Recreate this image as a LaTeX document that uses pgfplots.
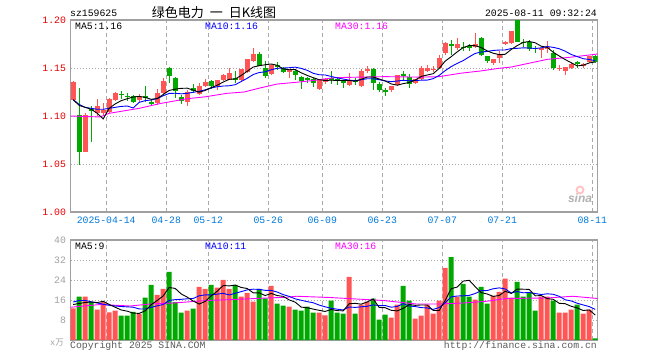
\documentclass[border=0pt]{standalone}
\usepackage{fontspec}
\usepackage{pgfplots}
\usepackage{pgfplotstable}
\pgfplotsset{compat=1.18}
\setmainfont{Liberation Mono}
\newfontfamily\cjk{Noto Sans CJK SC}
\newfontfamily\sansf{Liberation Sans}
\definecolor{cred}{RGB}{255,85,85}
\definecolor{cgreen}{RGB}{0,168,0}
\definecolor{cblue}{RGB}{0,0,255}
\definecolor{cmag}{RGB}{255,0,255}
\definecolor{labred}{RGB}{230,0,0}
\definecolor{labblue}{RGB}{0,120,220}
\definecolor{framegray}{RGB}{160,160,160}
\definecolor{gridgray}{RGB}{170,170,170}
\definecolor{txtgray}{RGB}{90,90,90}
\newcommand{\mf}{\fontsize{9.8}{10}\selectfont}

% red (rising) candles: x open high low close volume
\pgfplotstableread{
x o h l c v
0 1.117 1.136 1.116 1.135 12.7
2 1.063 1.103 1.062 1.101 17.4
4 1.103 1.118 1.100 1.110 12.2
5 1.103 1.114 1.100 1.106 15.2
6 1.104 1.119 1.103 1.118 11.1
7 1.117 1.125 1.116 1.124 11.8
11 1.117 1.123 1.115 1.121 10.5
14 1.114 1.128 1.111 1.124 18.1
15 1.124 1.140 1.123 1.136 20.5
19 1.115 1.127 1.110 1.125 11.8
21 1.123 1.134 1.122 1.131 21.3
22 1.131 1.139 1.130 1.135 20.5
24 1.131 1.138 1.127 1.137 21.0
25 1.138 1.144 1.136 1.143 24.1
26 1.138 1.150 1.137 1.145 20.5
28 1.137 1.149 1.136 1.149 17.4
29 1.146 1.159 1.145 1.159 18.9
30 1.157 1.171 1.156 1.165 15.4
33 1.144 1.154 1.143 1.153 21.7
36 1.146 1.149 1.140 1.148 13.4
41 1.128 1.138 1.127 1.1375 11.0
42 1.135 1.140 1.133 1.139 9.9
46 1.132 1.1445 1.131 1.1375 25.3
48 1.1316 1.1486 1.1305 1.147 14.2
49 1.147 1.152 1.1445 1.149 15.4
53 1.127 1.131 1.1247 1.131 9.0
54 1.132 1.143 1.131 1.1427 14.2
57 1.134 1.139 1.133 1.1385 8.6
58 1.1385 1.1524 1.138 1.150 9.8
59 1.147 1.153 1.146 1.150 14.2
60 1.148 1.152 1.146 1.149 10.6
61 1.150 1.1635 1.149 1.1607 15.8
62 1.1653 1.177 1.164 1.1764 28.9
64 1.1705 1.1815 1.169 1.175 17.4
67 1.1715 1.186 1.171 1.175 16.2
70 1.155 1.159 1.153 1.159 17.7
71 1.160 1.168 1.155 1.1646 19.3
72 1.1755 1.178 1.174 1.1768 24.6
73 1.1757 1.1885 1.175 1.1885 17.0
78 1.1695 1.1705 1.160 1.1705 17.4
79 1.1695 1.1785 1.166 1.1715 17.4
81 1.1490 1.153 1.147 1.1503 11.0
82 1.1464 1.1514 1.1427 1.1514 11.0
83 1.150 1.155 1.149 1.154 12.2
85 1.1528 1.155 1.150 1.154 10.6
86 1.1566 1.162 1.1555 1.162 12.2
}\redtab

% green (falling) candles
\pgfplotstableread{
x o h l c v
1 1.101 1.129 1.049 1.063 17.4
3 1.107 1.110 1.073 1.105 15.2
8 1.123 1.126 1.118 1.122 9.8
9 1.121 1.124 1.116 1.120 9.8
10 1.121 1.122 1.114 1.115 11.3
12 1.121 1.131 1.115 1.119 17.0
13 1.115 1.118 1.110 1.112 22.1
16 1.150 1.151 1.134 1.142 27.3
17 1.140 1.141 1.119 1.126 15.2
18 1.120 1.122 1.112 1.116 11.0
20 1.129 1.133 1.124 1.126 12.6
23 1.136 1.137 1.128 1.131 22.1
27 1.140 1.147 1.134 1.137 22.1
31 1.165 1.167 1.152 1.152 20.5
32 1.150 1.157 1.140 1.142 16.7
34 1.1525 1.156 1.148 1.152 14.6
35 1.150 1.151 1.145 1.146 13.8
37 1.147 1.149 1.137 1.143 12.2
38 1.141 1.142 1.128 1.136 11.8
39 1.139 1.141 1.134 1.1385 13.4
40 1.139 1.140 1.130 1.134 11.0
43 1.140 1.147 1.133 1.1375 15.8
44 1.138 1.140 1.132 1.137 11.0
45 1.1375 1.138 1.129 1.134 10.6
47 1.137 1.140 1.132 1.1357 10.6
50 1.149 1.150 1.127 1.134 16.6
51 1.133 1.1357 1.125 1.127 8.2
52 1.1268 1.1295 1.121 1.1255 10.2
55 1.144 1.147 1.138 1.142 21.7
56 1.141 1.1434 1.1295 1.133 15.8
63 1.1747 1.179 1.164 1.173 33.2
65 1.1722 1.1774 1.168 1.1712 22.5
66 1.1728 1.175 1.168 1.1718 17.4
68 1.1816 1.182 1.1625 1.1635 21.3
69 1.163 1.163 1.155 1.1576 14.6
74 1.200 1.200 1.1768 1.1774 23.3
75 1.1772 1.180 1.172 1.176 17.4
76 1.1774 1.179 1.168 1.1695 18.9
77 1.1712 1.1725 1.166 1.170 11.8
80 1.166 1.169 1.148 1.1503 15.8
84 1.1562 1.157 1.150 1.155 14.2
87 1.162 1.164 1.155 1.1566 0.7
}\greentab

% price moving averages
\pgfplotstableread{
x y
0 1.117
1 1.111
2 1.109
3 1.107
4 1.1028
5 1.0970
6 1.1080
7 1.1126
8 1.1160
9 1.1180
10 1.1198
11 1.1204
12 1.1194
13 1.1174
14 1.1182
15 1.1224
16 1.1266
17 1.1280
18 1.1288
19 1.1290
20 1.1270
21 1.1248
22 1.1266
23 1.1296
24 1.1320
25 1.1354
26 1.1382
27 1.1386
28 1.1422
29 1.1466
30 1.1510
31 1.1524
32 1.1534
33 1.1542
34 1.1528
35 1.1490
36 1.1482
37 1.1484
38 1.1450
39 1.1423
40 1.1399
41 1.1378
42 1.1370
43 1.1373
44 1.1370
45 1.1370
46 1.1370
47 1.1363
48 1.1382
49 1.1406
50 1.1406
51 1.1385
52 1.1366
53 1.1334
54 1.1321
55 1.1337
56 1.1349
57 1.1374
58 1.1412
59 1.1427
60 1.1441
61 1.1496
62 1.1572
63 1.1618
64 1.1668
65 1.1713
66 1.1735
67 1.1732
68 1.1713
69 1.1678
70 1.1654
71 1.1639
72 1.1643
73 1.1693
74 1.1733
75 1.1767
76 1.1776
77 1.1763
78 1.1727
79 1.1715
80 1.1664
81 1.1625
82 1.1588
83 1.1555
84 1.1522
85 1.1529
86 1.1553
87 1.1563
}\mafive

\pgfplotstableread{
x y
0 1.117
1 1.112
2 1.109
3 1.108
4 1.107
5 1.107
6 1.108
7 1.109
8 1.110
9 1.1104
10 1.1084
11 1.1142
12 1.1160
13 1.1167
14 1.1181
15 1.1211
16 1.1235
17 1.1237
18 1.1231
19 1.1236
20 1.1247
21 1.1257
22 1.1273
23 1.1292
24 1.1305
25 1.1312
26 1.1315
27 1.1326
28 1.1359
29 1.1393
30 1.1432
31 1.1453
32 1.1460
33 1.1482
34 1.1497
35 1.1500
36 1.1503
37 1.1509
38 1.1496
39 1.1476
40 1.1445
41 1.1430
42 1.1427
43 1.1412
44 1.1397
45 1.1385
46 1.1374
47 1.1367
48 1.1378
49 1.1388
50 1.1388
51 1.1378
52 1.1365
53 1.1358
54 1.1364
55 1.1372
56 1.1367
57 1.1370
58 1.1373
59 1.1374
60 1.1389
61 1.1423
62 1.1473
63 1.1515
64 1.1548
65 1.1577
66 1.1616
67 1.1652
68 1.1666
69 1.1673
70 1.1683
71 1.1687
72 1.1688
73 1.1703
74 1.1705
75 1.1710
76 1.1708
77 1.1703
78 1.1710
79 1.1724
80 1.1715
81 1.1701
82 1.1675
83 1.1641
84 1.1619
85 1.1597
86 1.1589
87 1.1576
}\maten

\pgfplotstableread{
x y
-0.42 1.100
4.5 1.099
6 1.1028
11 1.108
14.5 1.113
19 1.118
22 1.120
25.6 1.1236
28.5 1.1250
31 1.129
34 1.1333
37 1.135
40 1.137
43.7 1.140
52 1.141
58 1.1405
61 1.141
64.5 1.1445
68 1.147
71 1.1497
73 1.151
76 1.155
79 1.159
82.5 1.161
86 1.1635
87.42 1.1646
}\mathirty

% volume moving averages
\pgfplotstableread{
x y
0 14.2
1 14.6
2 15.0
3 15.2
4 14.98
5 15.48
6 14.22
7 13.10
8 12.02
9 11.54
10 10.76
11 10.64
12 11.68
13 14.14
14 15.80
15 17.64
16 21.00
17 20.64
18 18.42
19 17.16
20 15.58
21 14.38
22 15.44
23 17.66
24 19.50
25 21.80
26 21.64
27 21.96
28 21.02
29 20.60
30 18.86
31 18.86
32 17.78
33 18.64
34 17.78
35 17.46
36 16.04
37 15.14
38 13.16
39 12.92
40 12.36
41 11.88
42 11.42
43 12.22
44 11.74
45 11.66
46 14.52
47 14.66
48 14.34
49 15.22
50 16.42
51 13.00
52 12.92
53 11.88
54 11.64
55 12.66
56 14.18
57 13.86
58 14.02
59 14.02
60 11.80
61 11.80
62 15.86
63 20.54
64 21.18
65 23.56
66 23.88
67 21.34
68 18.96
69 18.40
70 17.44
71 17.82
72 19.50
73 18.64
74 20.38
75 20.32
76 20.24
77 17.68
78 17.76
79 16.58
80 16.26
81 14.68
82 14.52
83 13.48
84 12.84
85 11.80
86 12.04
87 9.98
}\vmafive

\pgfplotstableread{
x y
0 15.2
1 15.8
2 15.8
3 15.3
4 14.8
5 14.3
6 13.9
7 13.6
8 13.4
9 13.26
10 13.12
11 12.43
12 12.39
13 13.08
14 13.67
15 14.20
16 15.82
17 16.16
18 16.28
19 16.48
20 16.61
21 17.69
22 18.04
23 18.04
24 18.33
25 18.69
26 18.01
27 18.70
28 19.34
29 20.05
30 20.33
31 20.25
32 19.87
33 19.83
34 19.19
35 18.16
36 17.45
37 16.46
38 15.90
39 15.35
40 14.91
41 13.96
42 13.28
43 12.69
44 12.33
45 12.01
46 13.20
47 13.04
48 13.28
49 13.48
50 14.04
51 13.76
52 13.79
53 13.11
54 13.43
55 14.54
56 13.59
57 13.39
58 12.95
59 12.83
60 12.23
61 12.99
62 14.86
63 17.28
64 17.60
65 17.68
66 17.84
67 18.60
68 19.75
69 19.79
70 20.50
71 20.85
72 20.42
73 18.80
74 19.39
75 18.88
76 19.03
77 18.59
78 18.20
79 18.48
80 18.29
81 17.46
82 16.10
83 15.62
84 14.71
85 14.03
86 13.36
87 12.25
}\vmaten

\pgfplotstableread{
x y
-0.42 13.1
4.5 14.2
9.5 13.6
12.8 14.4
16.7 14.8
18.9 15.2
22.2 15.8
26.7 16.2
32.2 16.8
35.6 17.1
37.2 17.5
42.8 17.0
51.7 15.8
57.2 14.4
61.1 14.4
65 14.8
68.9 15.5
72.2 16.6
78.9 16.8
83.3 17.5
87.42 16.6
}\vmathirty

\pgfplotsset{
  kstyle/.style={
    scale only axis, width=527pt,
    xmin=-0.4167, xmax=87.4167,
    axis line style={framegray, line width=1.4pt},
    major tick length=0pt,
    xtick={5.5,15.5,22.5,32.5,41.5,51.5,61.5,71.5,86.5},
    xmajorgrids, ymajorgrids,
    major x grid style={gridgray, line width=1pt, dash pattern=on 4pt off 3pt},
    major y grid style={gridgray, line width=0.9pt, dash pattern=on 1pt off 2pt},
    ticklabel style={font=\mf, inner sep=0pt},
    yticklabel style={xshift=-4.6pt},
    xticklabel style={yshift=-5pt, text=labblue},
    clip=true,
  },
  wick/.style={draw=none, no markers, mark options={draw=none,fill=none}, forget plot,
    error bars/y dir=both, error bars/y explicit,
    error bars/error mark=none, error bars/error bar style={#1, line width=1pt, solid}},
  body/.style={draw=none, no markers, mark options={draw=none,fill=none}, forget plot,
    error bars/y dir=both, error bars/y explicit,
    error bars/error mark=none, error bars/error bar style={#1, line width=5pt, solid}},
}

\begin{document}
\begin{tikzpicture}[x=1pt,y=1pt]
\useasboundingbox (0,0) rectangle (660,360);

% ---------- price panel ----------
\begin{axis}[kstyle, at={(70.7pt,148pt)}, anchor=south west, height=192pt,
  ymin=1.0, ymax=1.2,
  ytick={1.00,1.05,1.10,1.15,1.20},
  yticklabels={1.00,1.05,1.10,1.15,1.20},
  yticklabel style={text=labred},
  xticklabels={2025-04-14,04-28,05-12,05-26,06-09,06-23,07-07,07-21,08-11},
]
\addplot[wick=cred] table[x=x, y expr={(\thisrow{h}+\thisrow{l})/2}, y error expr={(\thisrow{h}-\thisrow{l})/2}] {\redtab};
\addplot[body=cred] table[x=x, y expr={(\thisrow{o}+\thisrow{c})/2}, y error expr={max(abs(\thisrow{c}-\thisrow{o})/2,0.0006)}] {\redtab};
\addplot[wick=cgreen] table[x=x, y expr={(\thisrow{h}+\thisrow{l})/2}, y error expr={(\thisrow{h}-\thisrow{l})/2}] {\greentab};
\addplot[body=cgreen] table[x=x, y expr={(\thisrow{o}+\thisrow{c})/2}, y error expr={max(abs(\thisrow{c}-\thisrow{o})/2,0.0006)}] {\greentab};
\addplot[cmag, line width=0.9pt] table[x=x,y=y] {\mathirty};
\addplot[cblue, line width=0.9pt] table[x=x,y=y] {\maten};
\addplot[black, line width=0.9pt] table[x=x,y=y] {\mafive};
\end{axis}

% ---------- volume panel ----------
\begin{axis}[kstyle, at={(70.7pt,20pt)}, anchor=south west, height=100pt,
  ymin=0, ymax=40,
  ytick={8,16,24,32,40},
  yticklabels={8,16,24,32,40},
  yticklabel style={text=framegray},
  xticklabels={},
]
\addplot[ybar, bar width=5pt, bar shift=0pt, fill=cred, draw=none] table[x=x,y=v] {\redtab};
\addplot[ybar, bar width=5pt, bar shift=0pt, fill=cgreen, draw=none] table[x=x,y=v] {\greentab};
\addplot[cmag, line width=0.9pt] table[x=x,y=y] {\vmathirty};
\addplot[cblue, line width=0.9pt] table[x=x,y=y] {\vmaten};
\addplot[black, line width=0.9pt] table[x=x,y=y] {\vmafive};
\end{axis}

% ---------- texts ----------
\node[anchor=base west, inner sep=0pt, font=\mf] at (70,343.5) {sz159625};
\node[anchor=center, inner sep=0pt, font=\cjk\fontsize{13}{14}\selectfont] at (214,347.2) {绿色电力\hspace{6pt}一\hspace{6pt}日K线图};
\node[anchor=base east, inner sep=0pt, font=\mf] at (597,344) {2025-08-11 09:32:24};

\node[anchor=base west, inner sep=0pt, font=\mf] at (75,330.8) {MA5:1.16};
\node[anchor=base west, inner sep=0pt, font=\mf, text=cblue] at (205,330.8) {MA10:1.16};
\node[anchor=base west, inner sep=0pt, font=\mf, text=cmag] at (335,330.8) {MA30:1.16};

\node[anchor=base west, inner sep=0pt, font=\mf] at (75,110.1) {MA5:9};
\node[anchor=base west, inner sep=0pt, font=\mf, text=cblue] at (205,110.1) {MA10:11};
\node[anchor=base west, inner sep=0pt, font=\mf, text=cmag] at (335,110.1) {MA30:16};

\node[anchor=base east, inner sep=0pt, text=framegray] at (64,15) {\fontsize{8.5}{9}\selectfont x\cjk 万};
\node[anchor=base west, inner sep=0pt, font=\mf, text=txtgray] at (70,11.3) {Copyright 2025 SINA.COM};
\node[anchor=base east, inner sep=0pt, font=\mf, text=txtgray] at (597,11.3) {http://finance.sina.com.cn};

% sina watermark
\fill[cred!35] (580,170) circle (4.5);
\fill[white] (580,170) circle (2.2);
\node[anchor=base, inner sep=0pt, text=black!30, font=\sansf\bfseries\itshape\fontsize{12}{12}\selectfont] at (580,157.5) {sina};
\end{tikzpicture}
\end{document}
